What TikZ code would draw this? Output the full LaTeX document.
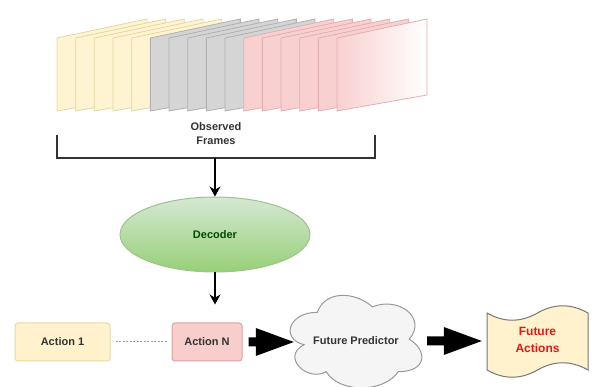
\documentclass[tikz,border=0pt]{standalone}
\usepackage{fontspec}
\setmainfont{Liberation Sans}
\usetikzlibrary{arrows.meta,shapes.geometric,calc}
\definecolor{yfill}{HTML}{FFF4D2}
\definecolor{ystroke}{HTML}{E6D5A0}
\definecolor{gfill}{HTML}{D5D5D5}
\definecolor{gstroke}{HTML}{B0B0B0}
\definecolor{pfill}{HTML}{F9D0D0}
\definecolor{pstroke}{HTML}{E0B0B0}
\definecolor{txt}{HTML}{333333}
\definecolor{gtop}{HTML}{D5E8D4}
\definecolor{gbot}{HTML}{97D077}
\definecolor{gline}{HTML}{9CC48A}
\definecolor{a1fill}{HTML}{FFF2CC}
\definecolor{a1line}{HTML}{E8D9A0}
\definecolor{anfill}{HTML}{F8CECC}
\definecolor{anline}{HTML}{E0A0A0}
\definecolor{dotc}{HTML}{8A9CC0}
\definecolor{cloudf}{HTML}{F5F5F5}
\definecolor{cloudl}{HTML}{999999}
\definecolor{tapef}{HTML}{FFF2CC}
\definecolor{tapel}{HTML}{777777}
\definecolor{redtxt}{HTML}{E01818}
\newcommand\blockarr[2]{\fill[black] let \p1=#1, \p2=#2 in
  (\x1,\y1+4.5pt) -- (\x2-38pt,\y1+4.5pt) -- (\x2-38pt,\y1+14pt) -- (\x2,\y1)
  -- (\x2-38pt,\y1-14pt) -- (\x2-38pt,\y1-4.5pt) -- (\x1,\y1-4.5pt) -- cycle;}
\begin{document}
\begin{tikzpicture}[x=1pt,y=-1pt,
  lbl/.style={font=\fontsize{11}{14}\selectfont\bfseries, text=txt, align=center},
  yframe/.style={fill=yfill, draw=ystroke, line width=0.8pt},
  gframe/.style={fill=gfill, draw=gstroke, line width=0.8pt},
  pframe/.style={fill=pfill, draw=pstroke, line width=0.8pt},
  arr/.style={draw=black, line width=1.5pt, -{Stealth[length=10pt,width=11pt]}},
  abox/.style={rectangle, rounded corners=3pt, minimum height=38pt, line width=1pt, lbl}]
\useasboundingbox (0,0) rectangle (592,387);
% frames
\foreach \i in {0,...,4}
  \draw[yframe] ({57+\i*18.67},38) -- ++(90,-19) -- ++(0,76) -- ++(-90,16) -- cycle;
\foreach \i in {5,...,9}
  \draw[gframe] ({57+\i*18.67},38) -- ++(90,-19) -- ++(0,76) -- ++(-90,16) -- cycle;
\foreach \i in {10,...,14}
  \draw[pframe] ({57+\i*18.67},38) -- ++(90,-19) -- ++(0,76) -- ++(-90,16) -- cycle;
\shadedraw[left color=pfill, right color=white, draw=pstroke, line width=0.8pt]
  (337,38) -- ++(90,-19) -- ++(0,76) -- ++(-90,16) -- cycle;
% label and bracket
\node[lbl] (obs) at (216,134) {Observed\\Frames};
\draw[line width=1.5pt, draw=txt] (57,135) -- (57,158) -- (375,158) -- (375,135);
\coordinate (brk) at (215,158);
% decoder
\node[ellipse, minimum width=190pt, minimum height=75pt, top color=gtop, bottom color=gbot,
  draw=gline, line width=1pt, lbl, text=green!30!black] (dec) at (215,234.5) {Decoder};
\draw[arr] (brk) -- (dec);
% actions
\node[abox, fill=a1fill, draw=a1line, minimum width=95pt] (a1) at (62.5,342) {Action 1};
\node[abox, fill=anfill, draw=anline, minimum width=70pt] (an) at (207,342) {Action N};
\draw[arr, shorten >=18pt] (dec.south) -- (dec.south |- an.north);
\draw[dotc, line width=1pt, dash pattern=on 2pt off 1.5pt, shorten <=5pt, shorten >=5pt] (a1.east) -- (an.west);
% cloud
\begin{scope}[shift={(280.6,285.3)}]
\begin{scope}[x=147pt, y=-108pt]
\draw[fill=cloudf, draw=cloudl, line width=1pt]
  (0.25,0.25) .. controls (0.05,0.25) and (0,0.5) .. (0.16,0.55)
  .. controls (0,0.66) and (0.18,0.9) .. (0.31,0.8)
  .. controls (0.4,1) and (0.7,1) .. (0.8,0.8)
  .. controls (1,0.8) and (1,0.6) .. (0.875,0.5)
  .. controls (1,0.3) and (0.8,0.1) .. (0.625,0.2)
  .. controls (0.5,0.05) and (0.3,0.05) .. (0.25,0.25) -- cycle;
\end{scope}
\end{scope}
\node[lbl, minimum width=124pt, inner sep=0pt] (cl) at (356,341) {Future Predictor};
% tape
\draw[fill=tapef, draw=tapel, line width=1pt]
  (487,313) .. controls (503.83,322.6) and (520.67,322.6) .. (537.5,313)
  .. controls (554.33,303.4) and (571.17,303.4) .. (588,313)
  -- (588,370)
  .. controls (571.17,360.4) and (554.33,360.4) .. (537.5,370)
  .. controls (520.67,379.6) and (503.83,379.6) .. (487,370) -- cycle;
\node[lbl, text=redtxt, font=\fontsize{12}{17}\selectfont\bfseries, minimum width=101pt, inner sep=0pt] (fa) at (537.5,340) {Future\\Actions};
% block arrows
\blockarr{([xshift=6pt]an.east)}{(cl.west)}
\blockarr{([xshift=9pt]cl.east)}{([xshift=-5pt]fa.west)}
\end{tikzpicture}
\end{document}
